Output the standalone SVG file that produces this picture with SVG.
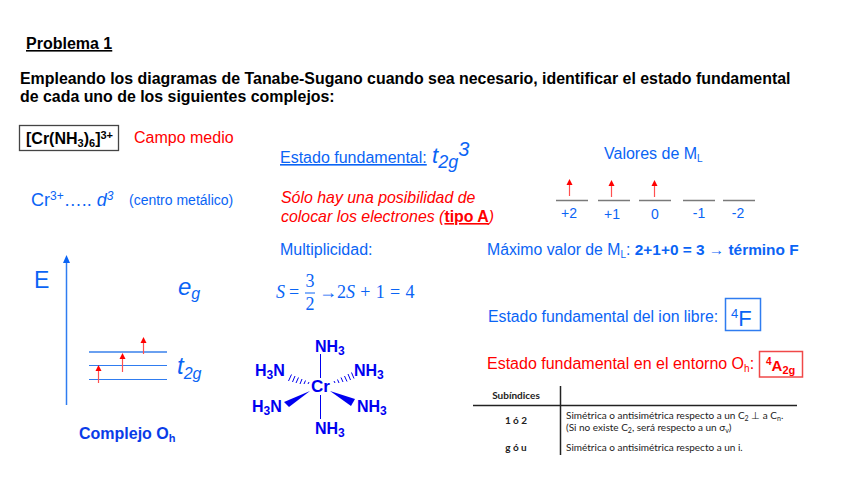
<svg xmlns="http://www.w3.org/2000/svg" width="848" height="477" viewBox="0 0 848 477">
<style>
text{font-family:"Liberation Sans",Arial,sans-serif;white-space:pre}
.b{fill:#0a64f5}
.r{fill:#ff0000}
.k{fill:#000;font-weight:bold}
.n{fill:#0000f0;font-weight:bold;font-size:16px}
.i{font-style:italic}
.s{font-family:"Liberation Serif","DejaVu Serif",serif;font-size:18px}
.t{fill:#222;font-family:Lato,sans-serif;font-size:10px}
.ln{stroke:#7a7a7a;stroke-width:1.5;fill:none}
.ar{stroke:#ff5050;stroke-width:1.2}
.ah{fill:#ff0000}
.bond{stroke:#0000f0;stroke-width:1;fill:none}
</style>
<g id="header">
<text x="26" y="49" class="k" font-size="16" text-decoration="underline">Problema 1</text>
<text x="20" y="84" class="k" font-size="15.920">Empleando los diagramas de Tanabe-Sugano cuando sea necesario, identificar el estado fundamental</text>
<text x="20" y="102" class="k" font-size="15.920">de cada uno de los siguientes complejos:</text>
</g>
<g id="complex-box">
<rect x="19.500" y="125.500" width="99" height="25" fill="none" stroke="#444" stroke-width="1.300"/>
<text x="26" y="144" class="k" font-size="16">[Cr(NH<tspan font-size="11" dy="3">3</tspan><tspan dy="-3">)</tspan><tspan font-size="11" dy="3">6</tspan><tspan dy="-3">]</tspan><tspan font-size="11" dy="-5">3+</tspan></text>
</g>
<g id="campo"><text x="134" y="143" class="r" font-size="16">Campo medio</text></g>
<g id="metal">
<text x="31" y="206" class="b" font-size="18">Cr<tspan font-size="12" dy="-6">3+</tspan><tspan dy="6">….. </tspan><tspan class="i">d</tspan><tspan class="i" font-size="12" dy="-6">3</tspan></text>
<text x="129" y="205" class="b" font-size="14">(centro metálico)</text>
</g>
<g id="estado-fundamental">
<text x="280" y="163" class="b" font-size="16" text-decoration="underline">Estado fundamental:</text>
<text x="432" y="163" class="b i" font-size="22">t<tspan font-size="18" dy="5">2g</tspan><tspan font-size="20" dy="-12">3</tspan></text>
</g>
<g id="posibilidad">
<text x="281" y="203" class="r i" font-size="15.900">Sólo hay una posibilidad de</text>
<text x="281" y="222" class="r i" font-size="15.900">colocar los electrones (<tspan font-weight="bold" font-style="normal" text-decoration="underline">tipo A</tspan>)</text>
</g>
<g id="multiplicidad">
<text x="280" y="255" class="b" font-size="16">Multiplicidad:</text>
<text x="276" y="298" class="b s i">S</text>
<text x="289" y="298" class="b s">=</text>
<text x="310" y="287" class="b s" text-anchor="middle">3</text>
<line x1="305" y1="293" x2="315" y2="293" stroke="#0a64f5" stroke-width="1"/>
<text x="310" y="310" class="b s" text-anchor="middle">2</text>
<text x="319" y="298" class="b s">→</text>
<text x="337" y="298" class="b s" word-spacing="0.800">2<tspan class="i">S</tspan> + 1 = 4</text>
</g>
<g id="valores">
<text x="604" y="159" class="b" font-size="16">Valores de M<tspan font-size="10" dy="3">L</tspan></text>
<text x="569" y="218" class="b" font-size="14" text-anchor="middle">+2</text>
<text x="612" y="219" class="b" font-size="14" text-anchor="middle">+1</text>
<text x="655" y="219" class="b" font-size="14" text-anchor="middle">0</text>
<text x="699" y="218" class="b" font-size="14" text-anchor="middle">-1</text>
<text x="738" y="218" class="b" font-size="14" text-anchor="middle">-2</text>
</g>
<g id="max-ml">
<text x="487" y="255" class="b" font-size="15.800">Máximo valor de M<tspan font-size="10" dy="3">L</tspan><tspan dy="-3">: </tspan><tspan font-weight="bold" font-size="15.400">2+1+0 = 3 → término F</tspan></text>
</g>
<g id="ion-libre">
<text x="488" y="322" class="b" font-size="15.800">Estado fundamental del ion libre:</text>
<rect x="725.500" y="298.500" width="35" height="32" fill="none" stroke="#2f7cf0" stroke-width="1.500"/>
<text x="731" y="326" class="b" font-size="22"><tspan font-size="13" dy="-8">4</tspan><tspan dy="8">F</tspan></text>
</g>
<g id="entorno">
<text x="487" y="369" class="r" font-size="16">Estado fundamental en el entorno O<tspan font-size="10" dy="3">h</tspan><tspan dy="-3">:</tspan></text>
<rect x="759.500" y="351.500" width="43" height="25.500" fill="none" stroke="#f04848" stroke-width="1.500"/>
<text x="766" y="371" class="r" font-weight="bold" font-size="15"><tspan font-size="10" dy="-6">4</tspan><tspan dy="6">A</tspan><tspan font-size="11" dy="3">2g</tspan></text>
</g>
<g id="diagram-oh">
<text x="34" y="288" class="b" font-size="23">E</text>
<text x="178" y="295" class="b i" font-size="24">e<tspan font-size="16" dy="4">g</tspan></text>
<text x="177" y="374" class="b i" font-size="24">t<tspan font-size="16" dy="5">2g</tspan></text>
<text x="79" y="439" fill="#0a3ce8" font-weight="bold" font-size="16">Complejo O<tspan font-size="11" dy="3">h</tspan></text>
</g>
<g id="connectors">
<line x1="66.500" y1="405" x2="66.500" y2="260" stroke="#2f7cf0" stroke-width="1.500"/>
<polygon points="66.500,255 63,263 70,263" fill="#0a64f5"/>
<line x1="89" y1="352" x2="167" y2="352" stroke="#6aa0f0" stroke-width="2"/>
<line x1="89" y1="365.500" x2="167" y2="365.500" stroke="#2f7cf0" stroke-width="1.200"/>
<line x1="89" y1="379.500" x2="167" y2="379.500" stroke="#2f7cf0" stroke-width="1.200"/>
<g id="t2g-arrows">
<line x1="98.500" y1="383" x2="98.500" y2="370" class="ar"/><polygon points="98.500,365 95.500,371 101.500,371" class="ah"/>
<line x1="122.500" y1="372" x2="122.500" y2="358" class="ar"/><polygon points="122.500,353 119.500,359 125.500,359" class="ah"/>
<line x1="143.500" y1="354" x2="143.500" y2="342" class="ar"/><polygon points="143.500,337 140.500,343 146.500,343" class="ah"/>
</g>
<line x1="556" y1="200.500" x2="588" y2="200.500" class="ln"/>
<line x1="598" y1="200.500" x2="630" y2="200.500" class="ln"/>
<line x1="639" y1="200.500" x2="671" y2="200.500" class="ln"/>
<line x1="683" y1="200.500" x2="715" y2="200.500" class="ln"/>
<line x1="723" y1="200.500" x2="755" y2="200.500" class="ln"/>
<line x1="569.500" y1="196" x2="569.500" y2="184" class="ar"/><polygon points="569.500,179 566.500,185 572.500,185" class="ah"/>
<line x1="611.500" y1="197" x2="611.500" y2="185" class="ar"/><polygon points="611.500,180 608.500,186 614.500,186" class="ah"/>
<line x1="654.500" y1="197" x2="654.500" y2="185" class="ar"/><polygon points="654.500,180 651.500,186 657.500,186" class="ah"/>
</g>
<g id="cr-complex">
<text x="311" y="392" class="n" style="font-size:17px">Cr</text>
<text x="315" y="352" class="n">NH<tspan font-size="12" dy="3">3</tspan></text>
<text x="315" y="434" class="n">NH<tspan font-size="12" dy="3">3</tspan></text>
<text x="255" y="376" class="n">H<tspan font-size="12" dy="3">3</tspan><tspan dy="-3">N</tspan></text>
<text x="354" y="376" class="n">NH<tspan font-size="12" dy="3">3</tspan></text>
<text x="252" y="412" class="n">H<tspan font-size="12" dy="3">3</tspan><tspan dy="-3">N</tspan></text>
<text x="357" y="412" class="n">NH<tspan font-size="12" dy="3">3</tspan></text>
<line x1="320.500" y1="354" x2="320.500" y2="378" class="bond"/>
<line x1="320.500" y1="395" x2="320.500" y2="419" class="bond"/>
<polygon points="310,391 284,402 289,407" fill="#0000f0"/>
<polygon points="330,391 355,399 351,406" fill="#0000f0"/>
<path d="M309 382L308 384M305.500 380.500L304 384M302 379L300 384M298.500 377.500L296 383M295 376L292.500 382M291.500 374.500L288.500 381" class="bond"/>
<path d="M334 381L335 383M337.500 379.500L339 383M341 377.500L343 382M344.500 376L347 381.500M348 374L350.500 380M351.500 372.500L354 378.500" class="bond"/>
</g>
<g id="table">
<line x1="473" y1="405.500" x2="797" y2="405.500" stroke="#222" stroke-width="1.500"/>
<line x1="560.500" y1="386" x2="560.500" y2="455" stroke="#222" stroke-width="1.500"/>
<text x="516" y="399" class="t" font-weight="bold" text-anchor="middle">Subíndices</text>
<text x="516" y="424" class="t" font-weight="bold" text-anchor="middle">1 ó 2</text>
<text x="516" y="451" class="t" font-weight="bold" text-anchor="middle">g ó u</text>
<text x="566" y="419" class="t">Simétrica o antisimétrica respecto a un C<tspan font-size="7" dy="2">2</tspan><tspan dy="-2"> ⊥ a C</tspan><tspan font-size="7" dy="2">n</tspan><tspan dy="-2">.</tspan></text>
<text x="566" y="431" class="t">(Si no existe C<tspan font-size="7" dy="2">2</tspan><tspan dy="-2">, será respecto a un σ</tspan><tspan font-size="7" dy="2">v</tspan><tspan dy="-2">)</tspan></text>
<text x="566" y="451" class="t">Simétrica o antisimétrica respecto a un i.</text>
</g>
</svg>
